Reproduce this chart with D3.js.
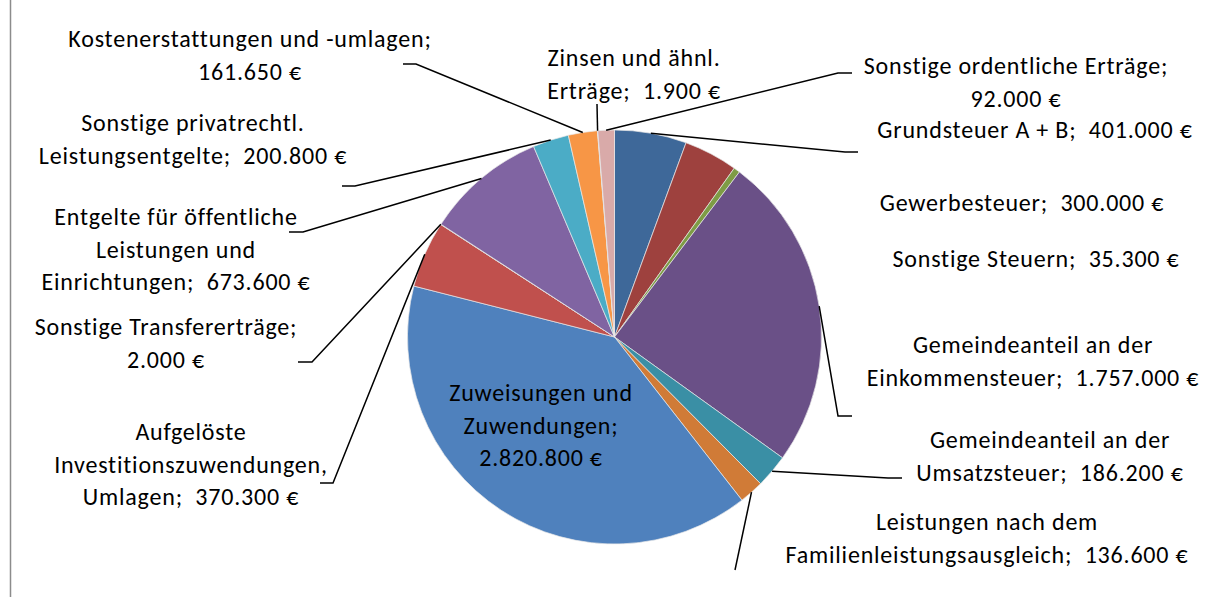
<!DOCTYPE html>
<html>
<head>
<meta charset="utf-8">
<script src="https://cdn.jsdelivr.net/npm/d3@7"></script>
<style>
  body { margin: 0; background: #fff; }
  #wrapper text { font-family: Carlito, Calibri, Lato, sans-serif; font-size: 24px; letter-spacing: 0.8px; fill: #000; }
</style>
</head>
<body>
<div id="wrapper"></div>
<script>
/* the data: one slice per revenue type, clockwise from 12 o'clock */
const categories = [
  "Grundsteuer A + B",
  "Gewerbesteuer",
  "Sonstige Steuern",
  "Gemeindeanteil an der Einkommensteuer",
  "Gemeindeanteil an der Umsatzsteuer",
  "Leistungen nach dem Familienleistungsausgleich",
  "Zuweisungen und Zuwendungen",
  "Aufgelöste Investitionszuwendungen, Umlagen",
  "Sonstige Transfererträge",
  "Entgelte für öffentliche Leistungen und Einrichtungen",
  "Sonstige privatrechtl. Leistungsentgelte",
  "Kostenerstattungen und -umlagen",
  "Zinsen und ähnl. Erträge",
  "Sonstige ordentliche Erträge",
]
const values = [401000, 300000, 35300, 1757000, 186200, 136600, 2820800, 370300, 2000, 673600, 200800, 161650, 1900, 92000]

/* colours, same order as the slices */
const colors = [
  "#3E6899", "#9E413E", "#7E9C45", "#6A5087", "#3A8FA5", "#D07B37",
  "#4F81BD", "#C0504D", "#9BBB59", "#8064A2", "#4BACC6", "#F79646",
  "#9DB5D9", "#D9AAA9",
]

/* how many words go on each label line */
const labelBreaks = [[5], [2], [3], [3, 2], [3, 2], [3, 2], [2, 1, 1], [1, 1, 2], [2, 1], [3, 2, 2], [2, 2], [3, 1], [3, 2], [3, 1]]

/* label placement: centre x and first baseline */
const labelPos = [
  [1035, 138], [1022, 211], [1036, 267], [1033, 353], [1050, 448], [987, 530],
  [541, 401], [191, 440], [166, 335], [176, 225], [193, 131], [250, 47],
  [634, 66], [1016, 74],
]
/* leader line bends after leaving the slice (null = no line) */
const leaderBends = [
  [[845, 152], [858, 152]], null, null, [[838, 416], [852, 416]], [[888, 478], [902, 478]], [[735, 570]],
  null, [[333, 483], [320, 483]], [[312, 362], [298, 362]], [[303, 232], [289, 232]],
  [[355, 186], [342, 186]], [[416, 64], [403, 64]], [[597, 104]], [[838, 73], [852, 73]],
]

function drawChart() {
  const dimensions = {
    width: 1216,
    height: 597,
    cx: 614.5,
    cy: 337,
    radius: 207,
  }

  const wrapper = d3.select("#wrapper")
    .append("svg")
    .attr("width", dimensions.width)
    .attr("height", dimensions.height)

  // grey frame edge on the left
  wrapper.append("line")
    .attr("x1", 10.5).attr("x2", 10.5)
    .attr("y1", 0).attr("y2", dimensions.height)
    .attr("stroke", "#8c8c8c")
    .attr("stroke-width", 1.5)

  const bounds = wrapper.append("g")
    .attr("transform", `translate(${dimensions.cx}, ${dimensions.cy})`)

  const pie = d3.pie().sort(null).value(d => d)
  const arcs = pie(values)

  const arcGen = d3.arc()
    .innerRadius(0)
    .outerRadius(dimensions.radius)

  bounds.selectAll(".slice")
    .data(arcs)
    .join("path")
    .attr("class", "slice")
    .attr("d", arcGen)
    .attr("fill", (d, i) => colors[i])
    .attr("stroke", "#e8e8e8")
    .attr("stroke-width", 0.7)

  // german number format: 1.757.000 €
  const de = d3.formatLocale({ decimal: ",", thousands: ".", grouping: [3], currency: ["", " €"] })
  const fmt = de.format(",")

  const labelLines = function(i) {
    const words = categories[i].split(" ")
    words[words.length - 1] += ";"
    const tokens = words.concat([fmt(values[i]) + " €"])
    const lines = []
    let k = 0
    labelBreaks[i].forEach(n => {
      const part = tokens.slice(k, k + n)
      k += n
      // excel puts two spaces before the value
      let s = ""
      part.forEach((t, j) => {
        if (j > 0) s += (t.endsWith("€") && part[j - 1].endsWith(";")) ? "  " : " "
        s += t
      })
      lines.push(s)
    })
    return lines
  }

  // leader lines start on the rim at the middle of the slice
  const rimPoint = function(d) {
    const a = (d.startAngle + d.endAngle) / 2
    return [dimensions.cx + dimensions.radius * Math.sin(a), dimensions.cy - dimensions.radius * Math.cos(a)]
  }

  wrapper.selectAll(".leader")
    .data(arcs.filter((d, i) => leaderBends[i]))
    .join("polyline")
    .attr("class", "leader")
    .attr("points", d => [rimPoint(d)].concat(leaderBends[d.index]).map(p => p.join(",")).join(" "))
    .attr("fill", "none")
    .attr("stroke", "#000")
    .attr("stroke-width", 1.5)

  const labels = wrapper.selectAll(".label")
    .data(arcs)
    .join("text")
    .attr("class", "label")
    .attr("text-anchor", "middle")
    .style("white-space", "pre")

  labels.each(function(d, i) {
    d3.select(this).selectAll("tspan")
      .data(labelLines(i))
      .join("tspan")
      .attr("x", labelPos[i][0])
      .attr("y", (t, j) => labelPos[i][1] + j * 32.5)
      .text(t => t)
  })
}
drawChart()
</script>
</body>
</html>
